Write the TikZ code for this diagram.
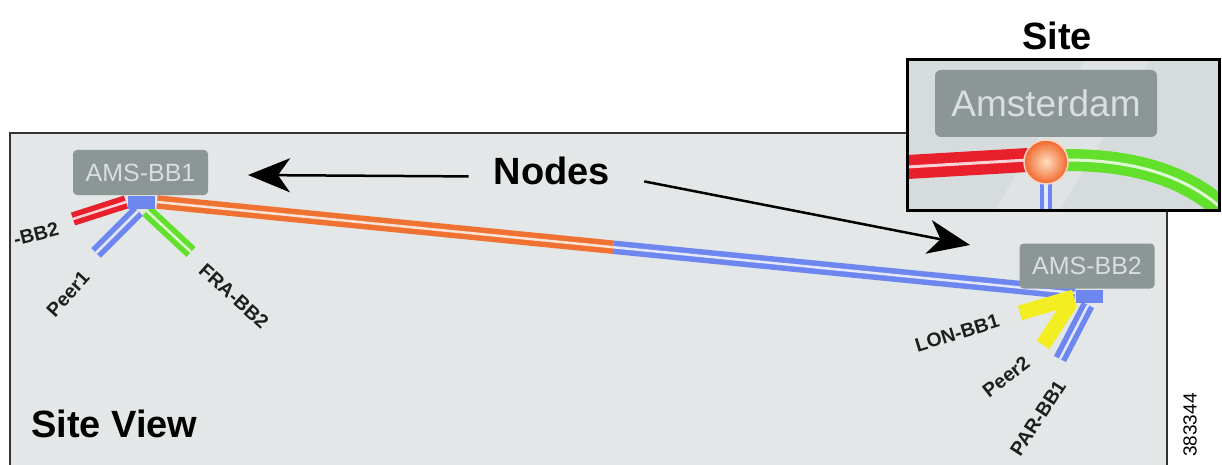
\documentclass[tikz,border=0pt]{standalone}
\usepackage{fontspec}
\setmainfont{Liberation Sans}
\usetikzlibrary{arrows.meta,calc}
\definecolor{bg}{HTML}{E3E7E8}
\definecolor{insetbg}{HTML}{D6DCDD}
\definecolor{boxc}{HTML}{8B9695}
\definecolor{boxtxt}{HTML}{D9DEDE}
\definecolor{lblue}{HTML}{6E86F0}
\definecolor{lred}{HTML}{E8202C}
\definecolor{lgreen}{HTML}{62E02C}
\definecolor{lorange}{HTML}{F07232}
\definecolor{lyellow}{HTML}{F2EE22}
\definecolor{lbltxt}{HTML}{1E1E1E}
\tikzset{
  frame/.style={draw=black!80, line width=2.5pt},
  linkc/.style={draw=white!80!#1, line width=2.5pt, preaction={draw=#1, line width=13.5pt}},
  solidlink/.style={draw=#1, line width=15pt},
  gbox/.style={fill=boxc, rounded corners=4pt, text=boxtxt, font=\fontsize{25}{27}\selectfont, minimum width=135pt, minimum height=45pt, inner sep=0pt},
  port/.style={fill=lblue, minimum width=27pt, minimum height=13pt, inner sep=0pt},
  lbl/.style={text=lbltxt, font=\bfseries\fontsize{19.5}{21}\selectfont, inner sep=0pt},
  bigt/.style={text=black, font=\bfseries\fontsize{38}{40}\selectfont, inner sep=0pt, anchor=base},
  arr/.style={line width=2.5pt, -{Stealth[length=42pt,width=34pt,inset=12pt]}},
}
\begin{document}
\begin{tikzpicture}[x=1pt,y=-1pt]
\useasboundingbox (0,0) rectangle (1222,465);
% main frame
\fill[bg] (10,133) rectangle (1167,470);
\draw[frame] (10,470) -- (10,133) -- (1167,133) -- (1167,470);
% link coordinates
\coordinate (p1) at (157,202);
\coordinate (p2) at (1075,293);
\coordinate (pm) at ($(p1)!0.497!(p2)$);
\coordinate (redend) at (73,219);
\coordinate (redst) at (126,202);
\coordinate (peer1st) at (138,211);
\coordinate (peer1end) at (96,253);
\coordinate (frast) at (147,211);
\coordinate (fraend) at (191,252);
\coordinate (lonst) at (1074,297);
\coordinate (lonend) at (1020,313);
\coordinate (peer2st) at (1071,302);
\coordinate (peer2end) at (1043,345);
\coordinate (parst) at (1088,305);
\coordinate (parend) at (1060,359);
% links
\draw[linkc=lorange] (p1) -- (pm);
\draw[linkc=lblue] (pm) -- (p2);
\draw[linkc=lred] (redst) -- (redend);
\draw[linkc=lblue] (peer1st) -- (peer1end);
\draw[linkc=lgreen] (frast) -- (fraend);
\draw[solidlink=lyellow] (lonst) -- (lonend);
\draw[solidlink=lyellow] (peer2st) -- (peer2end);
\draw[linkc=lblue] (parst) -- (parend);
% node boxes
\node[gbox] (bb1) at (140.5,172.5) {AMS-BB1};
\node[gbox] (bb2) at (1087,266) {AMS-BB2};
\node[port] (port1) at (141.5,202) {};
\node[port] (port2) at (1089,296) {};
% link labels
\begin{scope}
\clip (11,134) rectangle (1166,470);
\node[lbl, rotate=14, anchor=base east] (lblbb2) at (60,235) {-BB2};
\end{scope}
\node[lbl, rotate=48] (lblpeer1) at (68,294) {Peer1};
\node[lbl, rotate=-42] (lblfra) at (234,296) {FRA-BB2};
\node[lbl, rotate=17] (lbllon) at (957,333) {LON-BB1};
\node[lbl, rotate=38] (lblpeer2) at (1006,377) {Peer2};
\node[lbl, rotate=57] (lblpar) at (1038,418) {PAR-BB1};
% captions
\node[bigt] (nodes) at (552,185) {Nodes};
\node[bigt, anchor=base west] (siteview) at (31,437) {Site View};
\node[bigt] (site) at (1057,50) {Site};
\node[font=\fontsize{19}{21}\selectfont, rotate=90, inner sep=0pt] (fig) at (1190,425) {383344};
% arrows
\coordinate (tip1) at (248,175);
\coordinate (tip2) at (970,245);
\draw[arr] ($(nodes.west)+(-25,5)$) -- (tip1);
\draw[arr] ($(nodes.east)+(34,10)$) -- (tip2);
% inset
\begin{scope}
\clip (907,60) rectangle (1219,210);
\fill[insetbg] (907,60) rectangle (1219,210);
\fill[white, opacity=0.22] (1085,60) -- (1150,60) -- (1060,210) -- (995,210) -- cycle;
\node[gbox, minimum width=222pt, minimum height=67pt, font=\fontsize{37}{39}\selectfont, rounded corners=6pt] (ams) at (1046,103.5) {Amsterdam};
\draw[draw=white!80!lred, line width=3pt, preaction={draw=lred, line width=24pt}] (907,167) -- (1028,160);
\draw[draw=white!80!lgreen, line width=3pt, preaction={draw=lgreen, line width=22pt}] (1066,160) .. controls (1140,160) and (1190,178) .. (1228,214);
\draw[draw=white!80!lblue, line width=3.5pt, preaction={draw=lblue, line width=12pt}] (1046,180) -- (1046,212);
\shade[inner color=orange!25!white, outer color=lorange!90!red, draw=white!70!lorange, line width=1.5pt] (1046,162) circle (22);
\end{scope}
\draw[draw=black, line width=3pt] (907,60) rectangle (1219,210);
\end{tikzpicture}
\end{document}
